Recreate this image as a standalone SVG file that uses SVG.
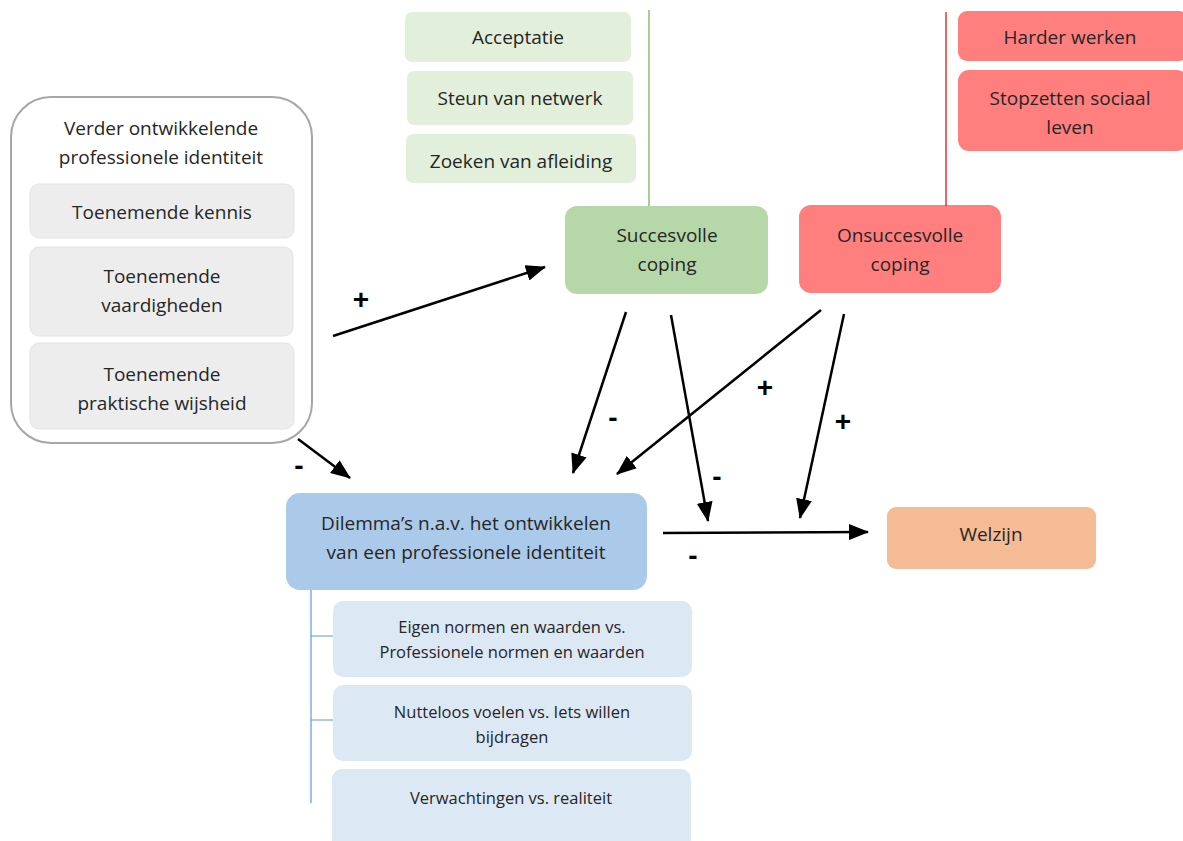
<svg xmlns="http://www.w3.org/2000/svg" width="1183" height="841" viewBox="0 0 1183 841">
<defs>
<marker id="ah" markerWidth="20" markerHeight="16" refX="19" refY="8" orient="auto" markerUnits="userSpaceOnUse">
<path d="M0,0 L20,8 L0,16 Z" fill="#000"/>
</marker>
<style>
text{font-family:"Open Sans","Liberation Sans",sans-serif;fill:#262626;text-anchor:middle}
.t17{font-size:19px}
.t15{font-size:16.5px}
.grey{fill:#ededed;stroke:#e3e3e3;stroke-width:1}
.lg{fill:#e2efda}
.red{fill:#ff7f7f}
.lb{fill:#dde8f5}
.conn{stroke:#000;stroke-width:2.5;fill:none;marker-end:url(#ah)}
.sign{font-family:"Liberation Sans",sans-serif;font-size:28px;font-weight:bold;fill:#000}
</style>
</defs>
<rect width="1183" height="841" fill="#fff"/>

<g id="verder">
<rect x="11" y="97" width="301" height="346" rx="40" fill="#fff" stroke="#a6a6a6" stroke-width="2"/>
<text class="t17" x="161" y="135">Verder ontwikkelende</text>
<text class="t17" x="161" y="164">professionele identiteit</text>
</g>
<g id="kennis"><rect class="grey" x="30" y="184" width="264" height="54" rx="9"/><text class="t17" x="162" y="219">Toenemende kennis</text></g>
<g id="vaardigheden"><rect class="grey" x="30" y="247" width="263" height="89" rx="9"/><text class="t17" x="162" y="283">Toenemende</text><text class="t17" x="162" y="312">vaardigheden</text></g>
<g id="wijsheid"><rect class="grey" x="30" y="343" width="264" height="86" rx="9"/><text class="t17" x="162" y="381">Toenemende</text><text class="t17" x="162" y="410">praktische wijsheid</text></g>

<g id="acceptatie"><rect class="lg" x="405" y="12" width="226" height="50" rx="7"/><text class="t17" x="518" y="44">Acceptatie</text></g>
<g id="steun"><rect class="lg" x="407" y="71" width="226" height="54" rx="7"/><text class="t17" x="520" y="105">Steun van netwerk</text></g>
<g id="afleiding"><rect class="lg" x="406" y="134" width="230" height="49" rx="7"/><text class="t17" x="521" y="168">Zoeken van afleiding</text></g>

<g id="succesvolle"><rect x="565" y="206" width="203" height="88" rx="12" fill="#b6d7a8"/><text class="t17" x="667" y="242">Succesvolle</text><text class="t17" x="667" y="271">coping</text></g>
<g id="onsuccesvolle"><rect class="red" x="799" y="205" width="202" height="88" rx="12"/><text class="t17" x="900" y="242">Onsuccesvolle</text><text class="t17" x="900" y="271">coping</text></g>

<g id="harder"><rect class="red" x="958" y="11" width="230" height="50" rx="9"/><text class="t17" x="1070" y="44">Harder werken</text></g>
<g id="stopzetten"><rect class="red" x="958" y="70" width="230" height="81" rx="11"/><text class="t17" x="1070" y="105">Stopzetten sociaal</text><text class="t17" x="1070" y="134">leven</text></g>

<g id="dilemma"><rect x="286" y="493" width="361" height="97" rx="14" fill="#abc9e8"/><text class="t17" x="466" y="530">Dilemma’s n.a.v. het ontwikkelen</text><text class="t17" x="466" y="559">van een professionele identiteit</text></g>

<g id="eigen"><rect class="lb" x="333" y="601" width="359" height="76" rx="10"/><text class="t15" x="512" y="633">Eigen normen en waarden vs.</text><text class="t15" x="512" y="658">Professionele normen en waarden</text></g>
<g id="nutteloos"><rect class="lb" x="333" y="685" width="359" height="76" rx="10"/><text class="t15" x="512" y="718">Nutteloos voelen vs. Iets willen</text><text class="t15" x="512" y="743">bijdragen</text></g>
<g id="verwachtingen"><rect class="lb" x="332" y="769" width="359" height="80" rx="10"/><text class="t15" x="511" y="804">Verwachtingen vs. realiteit</text></g>

<g id="welzijn"><rect x="887" y="507" width="209" height="62" rx="9" fill="#f5bb95"/><text class="t17" x="991" y="541">Welzijn</text></g>

<g id="connectors">
<line x1="649" y1="10" x2="649" y2="206" stroke="#70ad47" stroke-width="1.2"/>
<line x1="946" y1="12" x2="946" y2="206" stroke="#e00000" stroke-width="1.2"/>
<path d="M311,590 V803 M311,636 H333 M311,720 H333" stroke="#5b9bd5" stroke-width="1.2" fill="none"/>
<line class="conn" x1="333" y1="336" x2="545" y2="267"/>
<line class="conn" x1="298" y1="439" x2="350" y2="478"/>
<line class="conn" x1="626" y1="312" x2="573" y2="473"/>
<line class="conn" x1="671" y1="315" x2="708" y2="521"/>
<line class="conn" x1="821" y1="310" x2="617" y2="474"/>
<line class="conn" x1="844" y1="314" x2="800" y2="518"/>
<line class="conn" x1="663" y1="533" x2="868" y2="532"/>
<text class="sign" x="361" y="309">+</text>
<text class="sign" x="299" y="475">-</text>
<text class="sign" x="613" y="427">-</text>
<text class="sign" x="717" y="486">-</text>
<text class="sign" x="765" y="397">+</text>
<text class="sign" x="843" y="431">+</text>
<text class="sign" x="693" y="565">-</text>
</g>
</svg>
